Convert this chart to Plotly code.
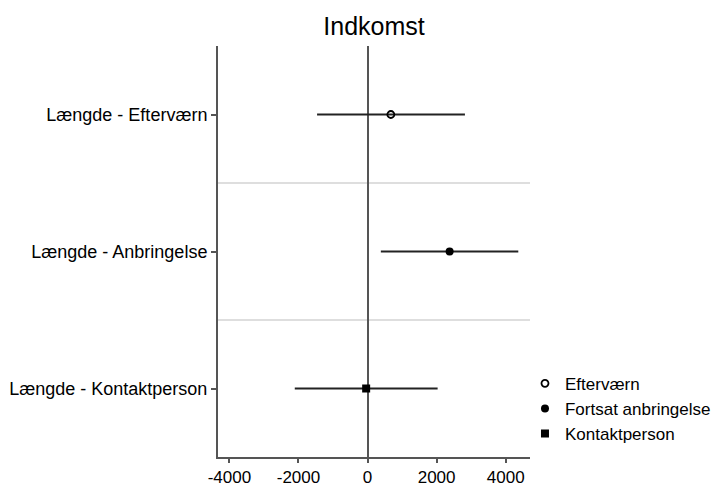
import plotly.graph_objects as go

# Estimates with 95% confidence intervals (income)
categories = ["Længde - Efterværn", "Længde - Anbringelse", "Længde - Kontaktperson"]
series_names = ["Efterværn", "Fortsat anbringelse", "Kontaktperson"]
estimates = [675, 2377, -40]
ci_low = [-1461, 385, -2107]
ci_high = [2820, 4365, 2029]
row_pos = [3, 2, 1]
x_ticks = [-4000, -2000, 0, 2000, 4000]

symbols = ["circle-open", "circle", "square"]
sizes = [7, 8, 8]
line_w = [1.8, 0, 0]

fig = go.Figure()
for i, name in enumerate(series_names):
    fig.add_trace(go.Scatter(
        x=[estimates[i]], y=[row_pos[i]], mode="markers", name=name,
        marker=dict(symbol=symbols[i], size=sizes[i], color="black",
                    line=dict(color="black", width=line_w[i])),
        error_x=dict(type="data", symmetric=False,
                     array=[ci_high[i] - estimates[i]],
                     arrayminus=[estimates[i] - ci_low[i]],
                     color="#222", thickness=2, width=0),
    ))

# separator lines between rows
for yv in [1.5, 2.5]:
    fig.add_shape(type="line", xref="paper", x0=0, x1=1, yref="y", y0=yv, y1=yv,
                  line=dict(color="#bdbdbd", width=1.2), layer="below")

fig.update_layout(
    width=716, height=488,
    margin=dict(l=218, r=186, t=46, b=31, autoexpand=False),
    paper_bgcolor="white", plot_bgcolor="white",
    font=dict(family="Liberation Sans, Arial, sans-serif", size=18, color="black"),
    title=dict(text="Indkomst", x=(218 + 530) / 2 / 716, xanchor="center",
               y=1 - 26 / 488, yanchor="middle", font=dict(size=25)),
    showlegend=True,
    legend=dict(x=(524 - 218) / 311, xanchor="left", y=0.222, yanchor="top",
                font=dict(size=17), bgcolor="rgba(0,0,0,0)",
                itemsizing="trace", tracegroupgap=0),
    xaxis=dict(range=[-4330, 4704], tickmode="array", tickvals=x_ticks,
               ticktext=[str(v) for v in x_ticks], automargin=False,
               showgrid=False, zeroline=True, zerolinecolor="#555", zerolinewidth=2,
               showline=True, linecolor="#555", linewidth=2,
               ticks="outside", ticklen=4, tickcolor="#555", tickwidth=1.5,
               tickfont=dict(size=17)),
    yaxis=dict(range=[0.5, 3.5], tickmode="array", tickvals=row_pos, ticktext=categories,
               showgrid=False, zeroline=False, automargin=False,
               showline=True, linecolor="#555", linewidth=2,
               ticks="outside", ticklen=5, tickcolor="#555", tickwidth=1.5,
               tickfont=dict(size=18)),
)

fig.write_html("out.html")
